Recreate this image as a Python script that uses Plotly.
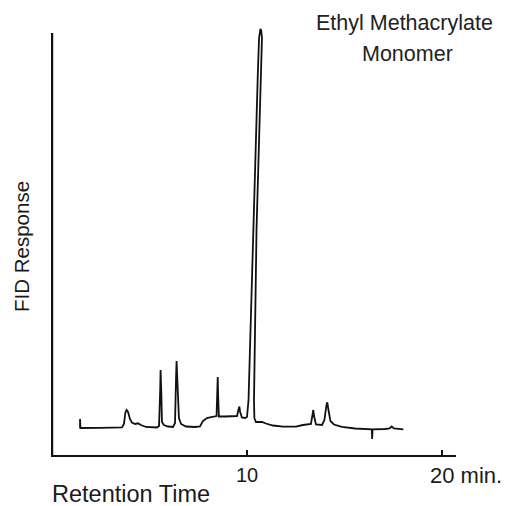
import plotly.graph_objects as go

# Retention time (min) and FID response (arbitrary units, 100 = top of axis)
retention_time = [
    1.44, 1.44, 1.46, 2.46, 3.59, 3.69, 3.77, 3.83, 3.90, 4.00, 4.10, 4.26, 4.41, 4.56, 4.82,
    5.38, 5.49, 5.55, 5.57, 5.61, 5.64, 5.74, 5.95, 6.21, 6.31, 6.36, 6.39, 6.44, 6.51, 6.62,
    6.87, 7.33, 7.59, 7.74, 7.95, 8.10, 8.26, 8.44, 8.48, 8.50, 8.52, 8.56, 8.87, 9.23, 9.49,
    9.56, 9.61, 9.65, 9.74, 9.90,
    10.00, 10.08, 10.31, 10.56, 10.62, 10.66, 10.69, 10.73, 10.77, 10.72, 10.49, 10.36, 10.38,
    10.46, 10.62, 10.77, 10.97, 11.33, 11.85, 12.51, 12.87, 13.13, 13.28, 13.36, 13.40, 13.44,
    13.54, 13.85, 13.97, 14.08, 14.12, 14.18, 14.28, 14.46, 14.87, 15.54, 16.40, 16.42, 16.44,
    17.08, 17.31, 17.42, 17.54, 18.02,
]
fid_response = [
    6.40, 8.53, 6.40, 6.45, 6.52, 7.35, 10.19, 10.66, 10.19, 8.53, 7.70, 7.35, 7.51, 7.11, 6.64,
    6.52, 6.87, 15.40, 20.14, 14.22, 7.82, 7.11, 6.75, 6.64, 7.58, 17.77, 22.27, 16.59, 8.77, 7.35,
    6.75, 6.64, 6.75, 8.06, 8.77, 8.89, 9.12, 9.24, 15.40, 18.48, 14.22, 9.12, 9.12, 9.24, 9.24,
    10.66, 11.49, 10.19, 8.89, 8.77,
    9.00, 13.03, 53.32, 90.90, 98.80, 100.60, 100.95, 100.60, 98.80, 90.90, 53.32, 13.03, 8.77,
    7.82, 7.75, 7.82, 7.46, 6.99, 6.71, 6.71, 7.11, 7.23, 7.35, 9.48, 10.66, 9.24,
    7.23, 7.11, 8.29, 11.85, 12.49, 10.66, 8.06, 7.23, 6.64, 6.28, 6.09, 3.79, 6.09,
    6.16, 6.28, 6.75, 6.28, 6.09,
]

tick_values = [10, 20]
tick_labels = ["10", "20 min."]
title_lines = ["Ethyl Methacrylate", "Monomer"]
x_title = "Retention Time"
y_title = "FID Response"

FONT = "Liberation Sans, Arial, Helvetica, sans-serif"
INK = "#1a1a1a"

fig = go.Figure()
fig.add_trace(go.Scatter(
    x=retention_time, y=fid_response, mode="lines",
    line=dict(color="#111111", width=1.8, shape="linear"),
    hoverinfo="skip", showlegend=False,
))

fig.update_layout(
    width=508, height=506,
    margin=dict(l=51, r=52, t=24, b=51),
    paper_bgcolor="white", plot_bgcolor="white",
    xaxis=dict(
        range=[-0.05, 20.72], showgrid=False, zeroline=False,
        showline=True, linecolor="#111111", linewidth=2,
        tickmode="array", tickvals=tick_values, ticktext=["", ""],
        ticks="inside", ticklen=5, tickwidth=1.5, tickcolor="#111111",
        fixedrange=True,
    ),
    yaxis=dict(
        range=[0, 102.13], showgrid=False, zeroline=False,
        showline=False, showticklabels=False, ticks="",
        fixedrange=True,
    ),
    shapes=[dict(
        type="line", xref="x", yref="y", x0=0, x1=0, y0=0, y1=100,
        line=dict(color="#111111", width=2.5),
    )],
    annotations=[
        dict(text=tick_labels[0], x=tick_values[0], xref="x", y=-0.0464, yref="paper",
             xanchor="center", yanchor="middle", showarrow=False,
             font=dict(family=FONT, size=20, color=INK)),
        dict(text=tick_labels[1], x=0.932, xref="paper", y=-0.0487, yref="paper",
             xanchor="left", yanchor="middle", showarrow=False,
             font=dict(family=FONT, size=22, color=INK)),
        dict(text=x_title, x=-0.0025, xref="paper", y=-0.0905, yref="paper",
             xanchor="left", yanchor="middle", showarrow=False,
             font=dict(family=FONT, size=23.5, color=INK)),
        dict(text=y_title, x=-0.0716, xref="paper", y=0.4826, yref="paper",
             xanchor="center", yanchor="middle", showarrow=False, textangle=-90,
             font=dict(family=FONT, size=20.5, color=INK)),
        dict(text=title_lines[0], x=0.874, xref="paper", y=1.0023, yref="paper",
             xanchor="center", yanchor="middle", showarrow=False,
             font=dict(family=FONT, size=21.5, color="#222222")),
        dict(text=title_lines[1], x=0.88, xref="paper", y=0.93, yref="paper",
             xanchor="center", yanchor="middle", showarrow=False,
             font=dict(family=FONT, size=21.5, color="#222222")),
    ],
)

fig.write_html(
    "out.html",
    config={"displayModeBar": False},
    post_script="document.body.style.margin='0';document.body.style.overflow='hidden';",
)
